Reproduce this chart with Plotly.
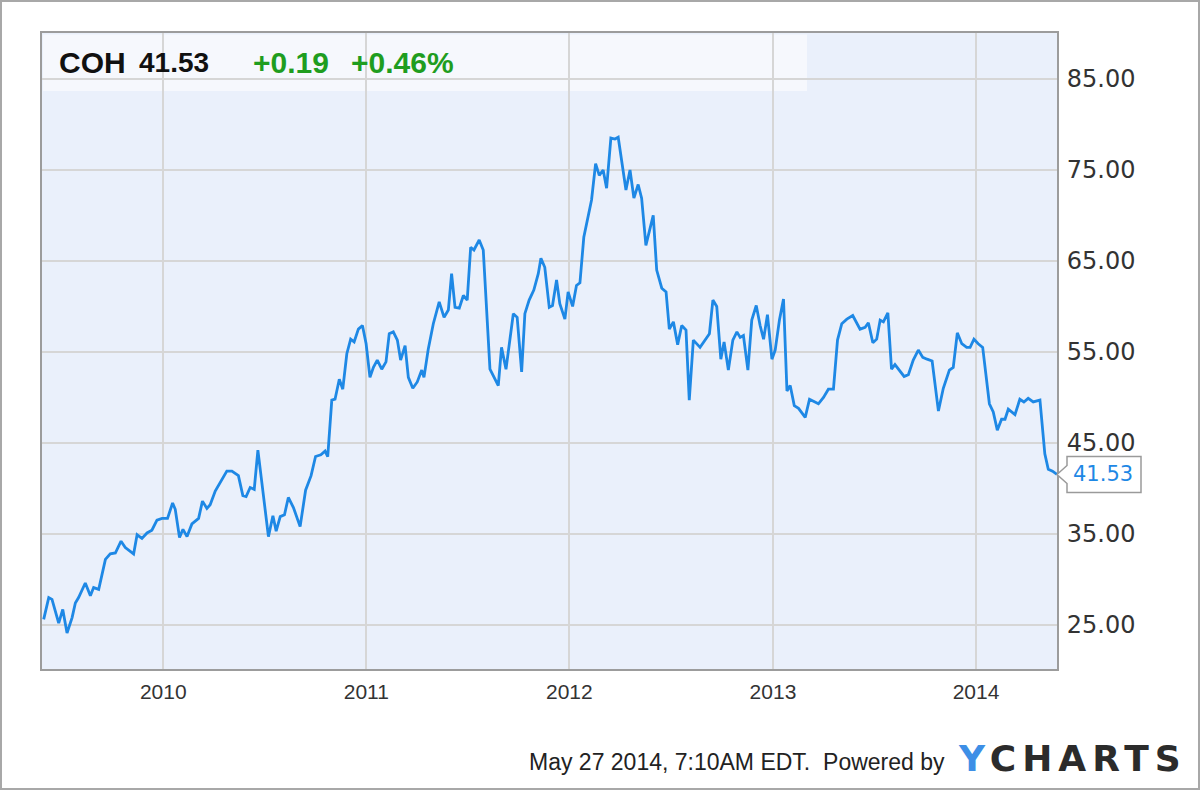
import plotly.graph_objects as go
from datetime import datetime

# ---- data ----
ticker = "COH"
last_price = 41.53
change_abs = "+0.19"
change_pct = "+0.46%"
stamp = "May 27 2014, 7:10AM EDT."

t_year = [
    2009.411, 2009.436, 2009.452, 2009.485, 2009.505, 2009.526, 2009.551, 2009.567, 2009.583, 2009.616,
    2009.641, 2009.657, 2009.682, 2009.715, 2009.739, 2009.764, 2009.792, 2009.813, 2009.854, 2009.871,
    2009.895, 2009.920, 2009.944, 2009.969, 2009.994, 2010.021, 2010.046, 2010.059, 2010.080, 2010.097,
    2010.117, 2010.141, 2010.174, 2010.193, 2010.215, 2010.231, 2010.256, 2010.289, 2010.313, 2010.338,
    2010.370, 2010.392, 2010.408, 2010.428, 2010.448, 2010.466, 2010.493, 2010.518, 2010.540, 2010.556,
    2010.576, 2010.597, 2010.616, 2010.641, 2010.674, 2010.701, 2010.728, 2010.750, 2010.776, 2010.797,
    2010.810, 2010.830, 2010.846, 2010.867, 2010.884, 2010.904, 2010.923, 2010.940, 2010.961, 2010.981,
    2010.999, 2011.018, 2011.035, 2011.054, 2011.076, 2011.097, 2011.113, 2011.133, 2011.153, 2011.169,
    2011.191, 2011.207, 2011.229, 2011.251, 2011.273, 2011.284, 2011.305, 2011.330, 2011.359, 2011.383,
    2011.404, 2011.420, 2011.437, 2011.458, 2011.478, 2011.497, 2011.514, 2011.530, 2011.556, 2011.576,
    2011.609, 2011.650, 2011.666, 2011.688, 2011.724, 2011.743, 2011.765, 2011.781, 2011.802, 2011.825,
    2011.847, 2011.860, 2011.879, 2011.901, 2011.917, 2011.937, 2011.953, 2011.978, 2011.994, 2012.016,
    2012.035, 2012.052, 2012.071, 2012.093, 2012.109, 2012.129, 2012.147, 2012.166, 2012.183, 2012.204,
    2012.224, 2012.240, 2012.262, 2012.278, 2012.298, 2012.317, 2012.338, 2012.355, 2012.376, 2012.396,
    2012.412, 2012.429, 2012.454, 2012.475, 2012.491, 2012.511, 2012.532, 2012.552, 2012.573, 2012.589,
    2012.609, 2012.642, 2012.667, 2012.688, 2012.705, 2012.724, 2012.744, 2012.760, 2012.781, 2012.803,
    2012.823, 2012.839, 2012.855, 2012.877, 2012.896, 2012.918, 2012.937, 2012.954, 2012.973, 2012.995,
    2013.011, 2013.032, 2013.052, 2013.069, 2013.085, 2013.105, 2013.126, 2013.159, 2013.180, 2013.200,
    2013.224, 2013.249, 2013.273, 2013.298, 2013.318, 2013.339, 2013.364, 2013.393, 2013.429, 2013.454,
    2013.470, 2013.492, 2013.511, 2013.528, 2013.544, 2013.566, 2013.584, 2013.601, 2013.623, 2013.646,
    2013.667, 2013.691, 2013.716, 2013.738, 2013.759, 2013.784, 2013.815, 2013.839, 2013.869, 2013.888,
    2013.908, 2013.930, 2013.954, 2013.971, 2013.990, 2014.011, 2014.033, 2014.066, 2014.085, 2014.105,
    2014.126, 2014.143, 2014.159, 2014.192, 2014.216, 2014.236, 2014.257, 2014.282, 2014.315, 2014.328,
    2014.339, 2014.356, 2014.377, 2014.399,
]

price = [
    25.6, 28.0, 27.8, 25.2, 26.7, 24.1, 25.8, 27.4, 28.0, 29.6,
    28.2, 29.1, 28.9, 32.2, 32.8, 32.9, 34.2, 33.5, 32.8, 34.9,
    34.5, 35.1, 35.4, 36.5, 36.7, 36.7, 38.4, 37.7, 34.6, 35.5,
    34.7, 36.1, 36.7, 38.6, 37.8, 38.2, 39.7, 41.0, 41.9, 41.9,
    41.4, 39.2, 39.1, 40.1, 39.9, 44.2, 39.0, 34.7, 37.0, 35.3,
    36.9, 37.1, 39.0, 37.9, 35.8, 39.8, 41.4, 43.5, 43.7, 44.1,
    43.5, 49.7, 49.8, 52.0, 50.9, 54.8, 56.4, 56.1, 57.5, 57.9,
    55.9, 52.2, 53.3, 54.1, 53.1, 53.9, 57.0, 57.2, 56.3, 54.1,
    55.7, 52.2, 51.0, 51.7, 53.0, 52.2, 55.3, 58.1, 60.5, 58.8,
    59.6, 63.6, 59.9, 59.8, 61.2, 60.7, 66.5, 66.2, 67.3, 66.2,
    53.1, 51.3, 55.5, 53.1, 59.2, 58.8, 52.8, 59.2, 60.7, 61.8,
    63.6, 65.3, 64.3, 59.9, 60.1, 62.9, 60.3, 58.6, 61.6, 60.0,
    62.3, 62.6, 67.6, 69.8, 71.7, 75.7, 74.4, 75.0, 73.0, 78.5,
    78.4, 78.6, 75.5, 72.8, 75.0, 71.9, 73.4, 71.9, 66.7, 68.4,
    70.0, 64.0, 62.0, 61.6, 57.5, 58.3, 55.8, 57.9, 57.4, 49.7,
    56.3, 55.5, 56.3, 57.0, 60.7, 60.0, 54.2, 56.1, 53.0, 56.3,
    57.2, 56.6, 56.8, 53.0, 58.5, 60.1, 57.9, 56.4, 59.1, 54.2,
    55.2, 58.5, 60.8, 50.7, 51.3, 49.1, 48.8, 47.8, 49.8, 49.6,
    49.3, 50.0, 50.9, 50.9, 56.3, 58.1, 58.6, 59.0, 57.5, 57.7,
    58.2, 56.0, 56.4, 58.5, 58.3, 59.3, 53.1, 53.6, 53.0, 52.3,
    52.5, 54.1, 55.2, 54.4, 54.2, 54.0, 48.5, 51.0, 53.0, 53.3,
    57.1, 55.9, 55.5, 55.5, 56.4, 55.9, 55.5, 49.3, 48.4, 46.4,
    47.6, 47.6, 48.7, 48.1, 49.8, 49.5, 49.9, 49.5, 49.7, 46.3,
    43.8, 42.1, 41.9, 41.53,
]

year_ticks = [2010, 2011, 2012, 2013, 2014]
price_ticks = [25, 35, 45, 55, 65, 75, 85]
x_start = "2009-05-28"
y_range = [20.15, 90.05]


def to_date(y):
    yr = int(y)
    a = datetime(yr, 1, 1)
    b = datetime(yr + 1, 1, 1)
    return a + (b - a) * (y - yr)


dates = [to_date(v) for v in t_year]

# ---- layout geometry ----
W, H = 1200, 790
L, R, T, B = 42, 143, 33, 121
PW, PH = W - L - R, H - T - B


def px(xp):
    return (xp - L) / PW


def py(yp):
    return (H - B - yp) / PH


LINE = "#1e88e5"
GREEN = "#1f9d1f"
GRID = "#d6d6d6"
FRAME = "#9c9c9c"

fig = go.Figure()
fig.add_trace(go.Scatter(
    x=dates, y=price, mode="lines",
    line=dict(color=LINE, width=2.8),
    hoverinfo="skip", showlegend=False,
))

fig.update_layout(
    width=W, height=H,
    margin=dict(l=L, r=R, t=T, b=B, pad=0),
    paper_bgcolor="white",
    plot_bgcolor="#eaf0fb",
    showlegend=False,
)

fig.update_xaxes(
    type="date",
    range=[x_start, dates[-1]],
    tickvals=[datetime(y, 1, 1) for y in year_ticks],
    ticktext=[str(y) for y in year_ticks],
    showgrid=True, gridcolor=GRID, gridwidth=1.5,
    showline=True, linecolor=FRAME, linewidth=2, mirror=True,
    ticks="outside", ticklen=3, tickcolor="rgba(0,0,0,0)",
    tickfont=dict(family="Liberation Sans, Arial, sans-serif", size=21, color="#333333"),
    zeroline=False,
)
fig.update_yaxes(
    side="right",
    range=y_range,
    tickvals=price_ticks,
    tickformat=".2f",
    showgrid=True, gridcolor=GRID, gridwidth=1.5,
    showline=True, linecolor=FRAME, linewidth=2, mirror=True,
    ticks="outside", ticklen=3, tickcolor="rgba(0,0,0,0)",
    tickfont=dict(family="DejaVu Sans, Verdana, sans-serif", size=24, color="#333333"),
    zeroline=False,
)

# header panel
fig.add_shape(type="rect", xref="paper", yref="paper",
              x0=0.001, x1=px(807), y0=py(91), y1=py(34.5),
              fillcolor="rgba(255,255,255,0.55)", line=dict(width=0), layer="between")

# last-value callout
fig.add_shape(type="path", xref="paper", yref="y",
              xsizemode="pixel", ysizemode="pixel",
              xanchor=1, yanchor=last_price,
              path="M0,0 L10,9 L10,18 L84,18 L84,-18 L10,-18 L10,-9 Z",
              fillcolor="white", line=dict(color="#9a9a9a", width=1.5), layer="above")

# outer frame
fig.add_shape(type="rect", xref="paper", yref="paper",
              x0=px(1), x1=px(1199), y0=py(789), y1=py(1),
              line=dict(color="#a8a8a8", width=2), fillcolor="rgba(0,0,0,0)", layer="above")

head_font = dict(family="Liberation Sans, Arial, sans-serif", size=30, weight="bold")
fig.add_annotation(text=ticker, xref="paper", yref="paper", x=px(57), y=py(62),
                   xanchor="left", yanchor="middle", showarrow=False,
                   font=dict(**head_font, color="#111111"))
fig.add_annotation(text=f"{last_price:.2f}", xref="paper", yref="paper", x=px(137), y=py(62),
                   xanchor="left", yanchor="middle", showarrow=False,
                   font=dict(family="Liberation Sans, Arial, sans-serif", size=28, weight="bold",
                             color="#111111"))
fig.add_annotation(text=change_abs, xref="paper", yref="paper", x=px(251), y=py(62),
                   xanchor="left", yanchor="middle", showarrow=False,
                   font=dict(**head_font, color=GREEN))
fig.add_annotation(text=change_pct, xref="paper", yref="paper", x=px(349), y=py(62),
                   xanchor="left", yanchor="middle", showarrow=False,
                   font=dict(**head_font, color=GREEN))

fig.add_annotation(text=f"{last_price:.2f}", xref="paper", yref="y", x=1, y=last_price,
                   xanchor="left", yanchor="middle", xshift=14, showarrow=False,
                   font=dict(family="DejaVu Sans, Verdana, sans-serif", size=21, color=LINE))

fig.add_annotation(text=stamp + "  Powered by", xref="paper", yref="paper",
                   x=px(947), y=py(762), xanchor="right", yanchor="middle", showarrow=False,
                   font=dict(family="Liberation Sans, Arial, sans-serif", size=23, color="#222222"))
fig.add_annotation(text="<span style='letter-spacing:6px'><span style='color:#3d8fe6'>Y</span>CHARTS</span>",
                   xref="paper", yref="paper",
                   x=px(956), y=py(758), xanchor="left", yanchor="middle", showarrow=False,
                   font=dict(family="DejaVu Sans, sans-serif", size=36, weight="bold", color="#2b2b2b"))

fig.write_html("out.html", config={"displayModeBar": False},
               post_script="document.body.style.margin='0';")
